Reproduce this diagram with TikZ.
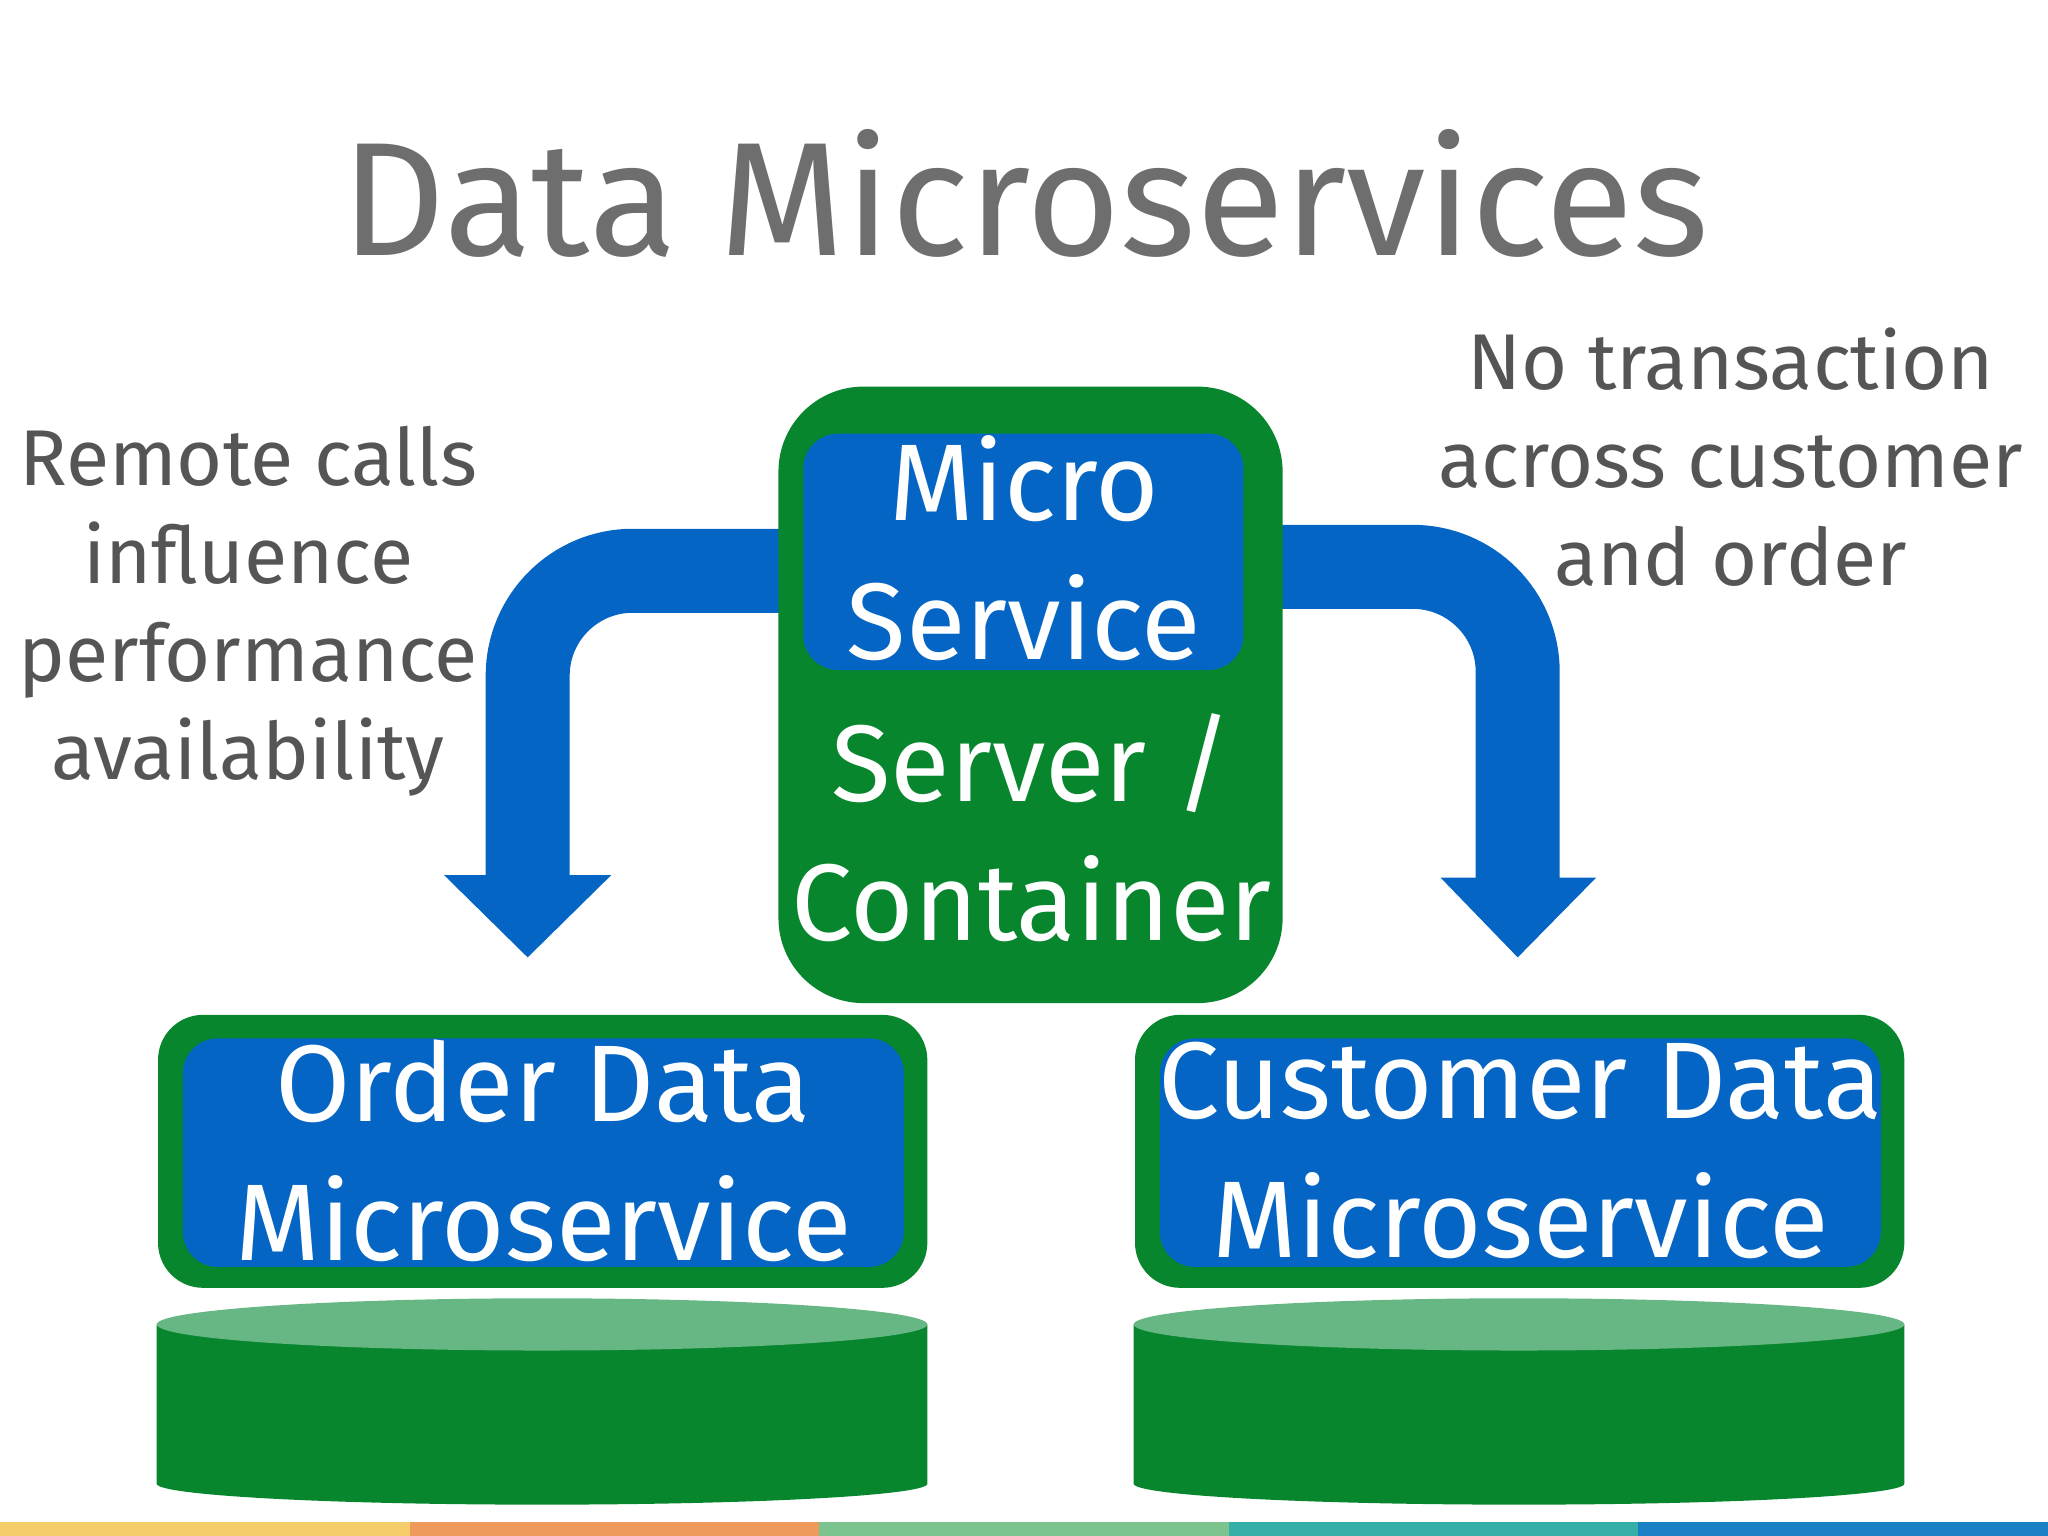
\documentclass[tikz,border=0pt]{standalone}
\usepackage{fontspec}
\setmainfont{Fira Sans}
\definecolor{grn}{HTML}{07862E}
\definecolor{lgrn}{HTML}{66B783}
\definecolor{blu}{HTML}{0565C4}
\definecolor{txt}{HTML}{555555}
\definecolor{s1}{HTML}{F5CD6A}
\definecolor{s2}{HTML}{EE9A5A}
\definecolor{s3}{HTML}{7CC48F}
\definecolor{s4}{HTML}{35B0A8}
\definecolor{s5}{HTML}{1A7FC4}
\begin{document}
\begin{tikzpicture}[x=0.013061cm,y=-0.013061cm,
  gbox/.style={draw=none,fill=grn,rounded corners=0.45cm},
  bbox/.style={draw=none,fill=blu,rounded corners=0.35cm},
  btxt/.style={text=white,font=\fontsize{31}{39.6}\selectfont,align=center},
  side/.style={text=txt,font=\fontsize{22.5}{27.8}\selectfont,align=center},
  band/.style={draw=blu,line width=0.84cm,rounded corners=1.05cm}]
\useasboundingbox (0,0) rectangle (1568,1176);
% title
\node[text=txt!85,font=\fontsize{46}{56}\selectfont] (title) at (785,148) {Data Microservices};
% arrows
\draw[band] (600,437) -| (404,672);
\fill[blu] (340,670) -- (468,670) -- (404,733) -- cycle;
\draw[band] (978,434) -| (1162,674);
\fill[blu] (1103,672) -- (1222,672) -- (1162,733) -- cycle;
% central container
\fill[gbox,rounded corners=0.85cm] (596,296) rectangle (982,768);
\fill[bbox] (615,332) rectangle (952,513);
\node[btxt] (ms) at (784,420) {Micro\\Service};
\node[btxt] (sc) at (790,634) {Server /\\Container};
% bottom boxes
\fill[gbox] (121,777) rectangle (710,986);
\fill[bbox] (140,795) rectangle (692,970);
\node[btxt] (order) at (416,881) {Order Data\\Microservice};
\fill[gbox] (869,777) rectangle (1458,986);
\fill[bbox] (888,795) rectangle (1440,970);
\node[btxt] (cust) at (1164,881) {Customer Data\\Microservice};
% cylinders
\foreach \cx in {415,1163}{
  \fill[grn] (\cx-295,1014) -- (\cx-295,1136) arc[start angle=180,end angle=360,x radius=295,y radius=-16] -- (\cx+295,1014) -- cycle;
  \fill[lgrn] (\cx,1014) ellipse[x radius=295,y radius=20];
}
% side texts
\node[side] (left) at (190,468) {Remote calls\\influence\\performance\\availability};
\node[side] (right) at (1325,350) {No transaction\\across customer\\and order};
% stripe
\fill[s1] (0,1165) rectangle (314,1176);
\fill[s2] (314,1165) rectangle (627,1176);
\fill[s3] (627,1165) rectangle (941,1176);
\fill[s4] (941,1165) rectangle (1254,1176);
\fill[s5] (1254,1165) rectangle (1568,1176);
\end{tikzpicture}
\end{document}
